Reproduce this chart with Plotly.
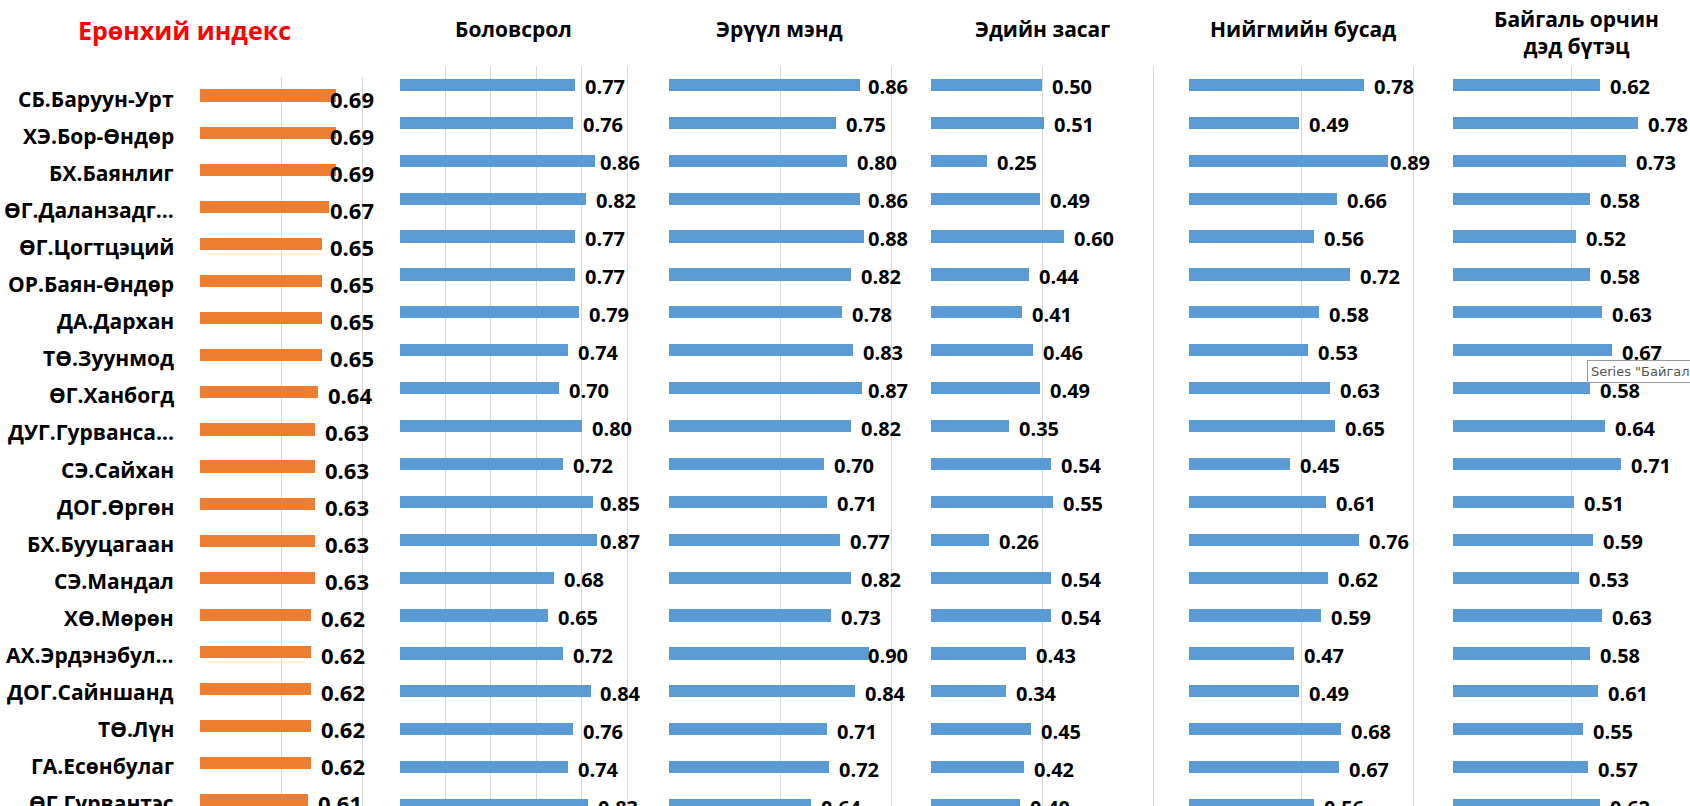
import plotly.graph_objects as go

W, H = 1690, 806

names = ["СБ.Баруун-Урт", "ХЭ.Бор-Өндөр", "БХ.Баянлиг", "ӨГ.Даланзадг...", "ӨГ.Цогтцэций",
         "ОР.Баян-Өндөр", "ДА.Дархан", "ТӨ.Зуунмод", "ӨГ.Ханбогд", "ДУГ.Гурванса...",
         "СЭ.Сайхан", "ДОГ.Өргөн", "БХ.Бууцагаан", "СЭ.Мандал", "ХӨ.Мөрөн",
         "АХ.Эрдэнэбул...", "ДОГ.Сайншанд", "ТӨ.Лүн", "ГА.Есөнбулаг", "ӨГ.Гурвантэс"]

overall = [0.69, 0.69, 0.69, 0.67, 0.65, 0.65, 0.65, 0.65, 0.64, 0.63,
           0.63, 0.63, 0.63, 0.63, 0.62, 0.62, 0.62, 0.62, 0.62, 0.61]
education = [0.77, 0.76, 0.86, 0.82, 0.77, 0.77, 0.79, 0.74, 0.70, 0.80,
             0.72, 0.85, 0.87, 0.68, 0.65, 0.72, 0.84, 0.76, 0.74, 0.83]
health = [0.86, 0.75, 0.80, 0.86, 0.88, 0.82, 0.78, 0.83, 0.87, 0.82,
          0.70, 0.71, 0.77, 0.82, 0.73, 0.90, 0.84, 0.71, 0.72, 0.64]
economy = [0.50, 0.51, 0.25, 0.49, 0.60, 0.44, 0.41, 0.46, 0.49, 0.35,
           0.54, 0.55, 0.26, 0.54, 0.54, 0.43, 0.34, 0.45, 0.42, 0.40]
social = [0.78, 0.49, 0.89, 0.66, 0.56, 0.72, 0.58, 0.53, 0.63, 0.65,
          0.45, 0.61, 0.76, 0.62, 0.59, 0.47, 0.49, 0.68, 0.67, 0.56]
environment = [0.62, 0.78, 0.73, 0.58, 0.52, 0.58, 0.63, 0.67, 0.58, 0.64,
               0.71, 0.51, 0.59, 0.53, 0.63, 0.58, 0.61, 0.55, 0.57, 0.62]

titles = ["Ерөнхий индекс", "Боловсрол", "Эрүүл мэнд", "Эдийн засаг",
          "Нийгмийн бусад", "Байгаль орчин<br>дэд бүтэц"]

ORANGE = "#ED7D31"
BLUE = "#5B9BD5"
GRID = "#D9D9D9"
FONT = "Open Sans"

# panel geometry (pixels): left, right, xmin, px per unit, top, row pitch, label clamp px
panels = [
    dict(vals=overall, color=ORANGE, left=200, right=380, xmin=0.3, ppu=348,
         top=77, pitch=37.1, clamp=328, fs=22, ysh=-3, bw=0.33,
         ticks=[0.3, 0.534, 0.768], title_xy=(184, 30), tcolor="#FF0000", tsize=25),
    dict(vals=education, color=BLUE, left=400, right=632, xmin=0.0, ppu=227,
         top=66, pitch=37.9, clamp=598, fs=20, ysh=-2, bw=0.32,
         ticks=[0, 0.2, 0.4, 0.6, 0.8, 1.0], title_xy=(513, 29), tcolor="#000000", tsize=21),
    dict(vals=health, color=BLUE, left=669, right=897, xmin=0.0, ppu=222,
         top=66, pitch=37.9, clamp=866, fs=20, ysh=-2, bw=0.32,
         ticks=[0, 0.5, 1.0], title_xy=(779, 29), tcolor="#000000", tsize=21),
    dict(vals=economy, color=BLUE, left=931, right=1160, xmin=0.0, ppu=222,
         top=66, pitch=37.9, clamp=1120, fs=20, ysh=-2, bw=0.32,
         ticks=[0, 0.5, 1.0], title_xy=(1042, 29), tcolor="#000000", tsize=21),
    dict(vals=social, color=BLUE, left=1189, right=1420, xmin=0.0, ppu=224,
         top=66, pitch=37.9, clamp=1388, fs=20, ysh=-2, bw=0.32,
         ticks=[0, 0.5, 1.0], title_xy=(1303, 29), tcolor="#000000", tsize=21),
    dict(vals=environment, color=BLUE, left=1453, right=1690, xmin=0.0, ppu=237,
         top=66, pitch=37.9, clamp=1648, fs=20, ysh=-2, bw=0.32,
         ticks=[0, 0.5, 1.0], title_xy=(1576, 32), tcolor="#000000", tsize=21),
]

fig = go.Figure()
annotations = []
layout = dict(width=W, height=H, margin=dict(l=0, r=0, t=0, b=0),
              paper_bgcolor="white", plot_bgcolor="white", showlegend=False,
              bargap=0.0)

for i, p in enumerate(panels, start=1):
    xa = "x" if i == 1 else f"x{i}"
    ya = "y" if i == 1 else f"y{i}"
    fig.add_trace(go.Bar(x=p["vals"], y=names, orientation="h", xaxis=xa, yaxis=ya,
                         width=p["bw"], marker=dict(color=p["color"], line=dict(width=0)),
                         hoverinfo="x+y"))
    xmax = p["xmin"] + (p["right"] - p["left"]) / p["ppu"]
    ybottom = -0.5 + (H - p["top"]) / p["pitch"]
    layout["xaxis" if i == 1 else f"xaxis{i}"] = dict(
        domain=[p["left"] / W, p["right"] / W], range=[p["xmin"], xmax],
        tickvals=p["ticks"], showticklabels=False, showgrid=True, gridcolor=GRID,
        gridwidth=1, zeroline=False, showline=False, anchor=ya, ticks="")
    layout["yaxis" if i == 1 else f"yaxis{i}"] = dict(
        domain=[0, (H - p["top"]) / H], range=[ybottom, -0.5], type="category",
        categoryorder="array", categoryarray=names, showgrid=False, zeroline=False,
        showline=False, anchor=xa, ticks="", automargin=False, showticklabels=False)
    # category labels for the first panel
    if i == 1:
        for nm in names:
            annotations.append(dict(x=176 / W, y=nm, xref="paper", yref=ya,
                                    xanchor="right", yanchor="middle", yshift=-3,
                                    text=nm, showarrow=False,
                                    font=dict(family=FONT, size=21, color="#000000",
                                              weight="bold")))
    # value labels
    for nm, v in zip(names, p["vals"]):
        bar_end = p["left"] + (v - p["xmin"]) * p["ppu"]
        shift = min(8, p["clamp"] - bar_end)
        annotations.append(dict(x=v, y=nm, xref=xa, yref=ya, xanchor="left",
                                yanchor="middle", xshift=shift, yshift=p["ysh"],
                                text=f"{v:.2f}", showarrow=False,
                                font=dict(family=FONT, size=p["fs"], color="#000000",
                                          weight="bold")))
    tx, ty = p["title_xy"]
    annotations.append(dict(x=tx / W, y=1 - ty / H, xref="paper", yref="paper",
                            xanchor="center", yanchor="middle", text=titles[i - 1],
                            showarrow=False,
                            font=dict(family=FONT, size=p["tsize"], color=p["tcolor"],
                                      weight="bold")))

# hover tooltip visible in the screenshot
annotations.append(dict(x=1587 / W, y=1 - 371 / H, xref="paper", yref="paper",
                        xanchor="left", yanchor="middle",
                        text='Series "Байгаль орчин дэд бүтэц"', showarrow=False,
                        bgcolor="#FFFFFF", bordercolor="#9A9A9A", borderwidth=1, borderpad=3,
                        font=dict(family="DejaVu Sans", size=13, color="#555555")))

layout["annotations"] = annotations
fig.update_layout(**layout)
fig.write_html("out.html", config={"displayModeBar": False},
               post_script="document.body.style.margin='0px';document.body.style.overflow='hidden';")
